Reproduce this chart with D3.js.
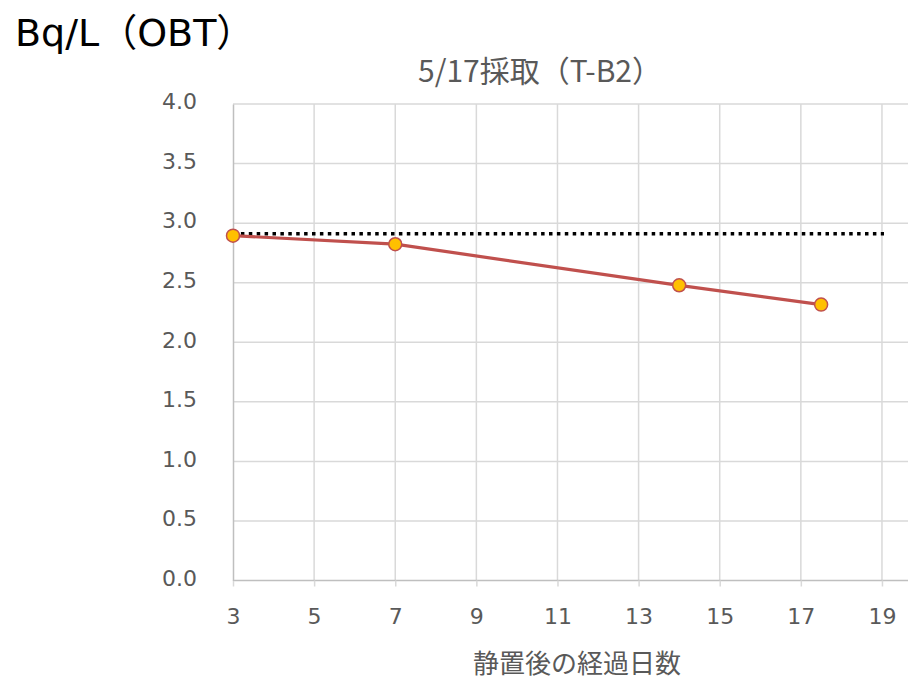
<!DOCTYPE html>
<html>
<head>
<meta charset="utf-8">
<script src="https://cdn.jsdelivr.net/npm/d3@7"></script>
<style>
  body { margin: 0; background: #fff; }
  svg { display: block; }
</style>
</head>
<body>
<svg id="chart" width="908" height="679"></svg>
<script>
// data
var days = [3, 7, 14, 17.5];
var values = [2.895, 2.823, 2.478, 2.316];
var refLine = [[3, 2.91], [19.05, 2.91]];
var xTicks = [3, 5, 7, 9, 11, 13, 15, 17, 19];
var yTicks = [0, 0.5, 1, 1.5, 2, 2.5, 3, 3.5, 4];
var chartTitle = "5/17採取（T-B2）";
var yTitle = "Bq/L（OBT）";
var xTitle = "静置後の経過日数";

var svg = d3.select("#chart"),
  plotLeft = 233, plotTop = 104, plotBottom = 580.5,
  font = "'DejaVu Sans', Verdana, 'Noto Sans CJK JP', sans-serif",
  cjk = "'Noto Sans CJK JP', sans-serif";

var x = d3.scaleLinear().domain([3, 20]).range([plotLeft, plotLeft + 17 * 40.56]);
var y = d3.scaleLinear().domain([0, 4]).range([plotBottom, plotTop]);

// gridlines
svg.append("g")
  .selectAll("line")
  .data(yTicks.slice(1))
  .enter().append("line")
    .attr("x1", plotLeft).attr("x2", 908)
    .attr("y1", function(d) { return y(d); })
    .attr("y2", function(d) { return y(d); })
    .attr("stroke", "#d9d9d9").attr("stroke-width", 1.5);

svg.append("g")
  .selectAll("line")
  .data(xTicks.slice(1))
  .enter().append("line")
    .attr("y1", plotTop).attr("y2", plotBottom)
    .attr("x1", function(d) { return x(d); })
    .attr("x2", function(d) { return x(d); })
    .attr("stroke", "#d9d9d9").attr("stroke-width", 1.5);

// axes
var xAxis = svg.append("g")
  .attr("transform", "translate(0," + plotBottom + ")")
  .call(d3.axisBottom(x).tickValues(xTicks).tickSize(6).tickPadding(22).tickFormat(d3.format("d")));
xAxis.select(".domain").attr("d", "M" + plotLeft + ",0H908").attr("stroke", "#bfbfbf").attr("stroke-width", 1.5);
xAxis.selectAll(".tick line").attr("stroke", "#d9d9d9").attr("stroke-width", 1.5);
xAxis.selectAll("text").attr("fill", "#595959").style("font-size", "22px").style("font-family", font);

var yAxis = svg.append("g")
  .attr("transform", "translate(" + plotLeft + ",0)")
  .call(d3.axisLeft(y).tickValues(yTicks).tickSize(0).tickPadding(36).tickFormat(d3.format(".1f")));
yAxis.select(".domain").attr("stroke", "#bfbfbf").attr("stroke-width", 1.5);
yAxis.selectAll("text").attr("fill", "#595959").attr("dy", "0.22em")
  .style("font-size", "22px").style("font-family", font);

// reference dotted line
svg.append("path")
  .datum(refLine)
  .attr("d", d3.line().x(function(d) { return x(d[0]); }).y(function(d) { return y(d[1]); }))
  .attr("fill", "none")
  .attr("stroke", "#000")
  .attr("stroke-width", 3.5)
  .attr("stroke-dasharray", "3.5,4.4");

// data series
var pts = days.map(function(d, i) { return [d, values[i]]; });
svg.append("path")
  .datum(pts)
  .attr("d", d3.line().x(function(d) { return x(d[0]); }).y(function(d) { return y(d[1]); }))
  .attr("fill", "none")
  .attr("stroke", "#c0504d")
  .attr("stroke-width", 3.2);

svg.selectAll("circle.pt")
  .data(pts)
  .enter().append("circle")
    .attr("class", "pt")
    .attr("cx", function(d) { return x(d[0]); })
    .attr("cy", function(d) { return y(d[1]); })
    .attr("r", 6.5)
    .attr("fill", "#ffc000")
    .attr("stroke", "#c0504d")
    .attr("stroke-width", 1.5);

// titles
svg.append("text")
  .attr("x", 540).attr("y", 82)
  .attr("text-anchor", "middle")
  .attr("fill", "#595959")
  .style("font-size", "30px").style("font-family", cjk)
  .text(chartTitle);

svg.append("text")
  .attr("x", 15).attr("y", 46)
  .attr("fill", "#000")
  .style("font-size", "38px").style("font-family", font)
  .text(yTitle);

svg.append("text")
  .attr("x", 577).attr("y", 673)
  .attr("text-anchor", "middle")
  .attr("fill", "#595959")
  .style("font-size", "26px").style("font-family", cjk)
  .text(xTitle);
</script>
</body>
</html>
